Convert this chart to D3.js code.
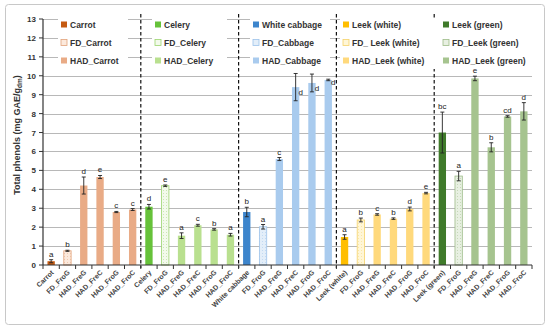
<!DOCTYPE html>
<html><head><meta charset="utf-8">
<script src="https://cdn.jsdelivr.net/npm/d3@7"></script>
<style>body{margin:0;background:#fff}svg{display:block}text{font-family:"Liberation Sans",Arial,sans-serif}</style>
</head><body><svg id="c" width="550" height="331"></svg>
<script>
const categories = ["Carrot","FD_FroG","HAD_FreG","HAD_FreC","HAD_FroG","HAD_FroC",
 "Celery","FD_FroG","HAD_FreG","HAD_FreC","HAD_FroG","HAD_FroC",
 "White cabbage","FD_FroG","HAD_FreG","HAD_FreC","HAD_FroG","HAD_FroC",
 "Leek (white)","FD_FroG","HAD_FreG","HAD_FreC","HAD_FroG","HAD_FroC",
 "Leek (green)","FD_FroG","HAD_FreG","HAD_FreC","HAD_FroG","HAD_FroC"];
const values = [0.2,0.75,4.2,4.65,2.8,2.93,
 3.08,4.19,1.55,2.1,1.88,1.6,
 2.8,2.02,5.6,9.4,9.62,9.78,
 1.48,2.38,2.67,2.45,2.96,3.8,
 7.0,4.7,9.86,6.22,7.85,8.12];
const errors = [0.08,0.03,0.45,0.08,0.03,0.05,
 0.12,0.04,0.15,0.05,0.04,0.07,
 0.25,0.12,0.08,0.72,0.47,0.04,
 0.12,0.1,0.04,0.04,0.1,0.04,
 1.08,0.25,0.12,0.24,0.04,0.46];
const letters = ["a","b","d","e","c","c",
 "d","e","a","c","b","a",
 "b","a","c","d","d","d",
 "a","b","c","b","d","e",
 "bc","a","e","b","cd","d"];
const groupNames = ["Carrot","Celery","White cabbage","Leek (white)","Leek (green)"];
const legendLabels = [["Carrot","FD_Carrot","HAD_Carrot"],["Celery","FD_Celery","HAD_Celery"],
 ["White cabbage","FD_Cabbage","HAD_Cabbage"],["Leek (white)","FD_ Leek (white)","HAD_Leek (white)"],
 ["Leek (green)","FD_Leek (green)","HAD_Leek (green)"]];
const yTicks = [0,1,2,3,4,5,6,7,8,9,10,11,12,13];
// colours per group: [fresh, FD fill, FD stroke, HAD]
const colors = [["#C55A11","#FCE9DC","#E2A27A","#E9AB86"],
 ["#66C23A","#F3FAEC","#9BD46E","#B9E08F"],
 ["#3D85CC","#E3EEF9","#9CC2EA","#A9CBEE"],
 ["#FFBE00","#FFF6D6","#F5D36A","#FFD97C"],
 ["#3F7A2A","#E8F0E2","#9DBB88","#A6C48F"]];

const svg = d3.select("#c");
const L=43,R=532;
const y = d3.scaleLinear().domain([0,13]).range([265,19]);
const x = d3.scaleBand().domain(d3.range(categories.length)).range([L,R]).paddingInner(0.55).paddingOuter(0.275);
const step = x.step();

// frame
svg.append("rect").attr("x",5.5).attr("y",4.5).attr("width",539).attr("height",320).attr("rx",3)
 .attr("fill","none").attr("stroke","#c8c8c8").attr("stroke-width",1);

// gridlines
svg.append("g").selectAll("line").data(yTicks.filter(d=>d>0)).join("line")
 .attr("x1",L).attr("x2",R).attr("y1",d=>Math.round(y(d))+0.5).attr("y2",d=>Math.round(y(d))+0.5)
 .attr("stroke","#a6a6a6").attr("stroke-width",0.8);

// patterns for FD bars
const defs = svg.append("defs");
colors.forEach((c,i)=>{
 const p = defs.append("pattern").attr("id","fd"+i).attr("width",3).attr("height",3).attr("patternUnits","userSpaceOnUse");
 p.append("rect").attr("width",3).attr("height",3).attr("fill",c[1]);
 p.append("rect").attr("x",1).attr("y",1).attr("width",1).attr("height",1).attr("fill",c[2]).attr("opacity",0.45);
});

// bars
const g = i=>Math.floor(i/6), t=i=>i%6;
svg.append("g").selectAll("rect").data(values).join("rect")
 .attr("x",(d,i)=>x(i)).attr("width",x.bandwidth())
 .attr("y",d=>y(d)).attr("height",d=>y(0)-y(d))
 .attr("fill",(d,i)=>t(i)===0?colors[g(i)][0]:t(i)===1?`url(#fd${g(i)})`:colors[g(i)][3])
 .attr("stroke",(d,i)=>t(i)===1?colors[g(i)][2]:"none").attr("stroke-width",0.8);

// error bars
const eg = svg.append("g").attr("stroke","#222").attr("stroke-width",0.9);
values.forEach((v,i)=>{
 const cx = x(i)+x.bandwidth()/2, y1=y(v+errors[i]), y2=y(v-errors[i]);
 eg.append("line").attr("x1",cx).attr("x2",cx).attr("y1",y1).attr("y2",y2);
 eg.append("line").attr("x1",cx-2).attr("x2",cx+2).attr("y1",y1).attr("y2",y1);
 eg.append("line").attr("x1",cx-2).attr("x2",cx+2).attr("y1",y2).attr("y2",y2);
});
// letters
svg.append("g").selectAll("text").data(letters).join("text")
 .attr("x",(d,i)=>x(i)+x.bandwidth()/2 + ((values[i]>9 && g(i)===2 && t(i)>2)?5:0))
 .attr("y",(d,i)=>((values[i]>9 && g(i)===2 && t(i)>2)? y(values[i])+ 8 - (t(i)===5?3:0) : y(values[i]+errors[i])-3))
 .attr("text-anchor","middle").attr("font-size",8).attr("fill","#222").text(d=>d);

// dashed separators
svg.append("g").selectAll("line").data([6,12,18,24]).join("line")
 .attr("x1",d=>L+d*step).attr("x2",d=>L+d*step).attr("y1",14).attr("y2",268)
 .attr("stroke","#111").attr("stroke-width",1.2).attr("stroke-dasharray","3.5,2.5");

// axes
svg.append("line").attr("x1",L).attr("x2",L).attr("y1",y(13)).attr("y2",y(0)).attr("stroke","#333").attr("stroke-width",1.2);
svg.append("line").attr("x1",L).attr("x2",R).attr("y1",y(0)).attr("y2",y(0)).attr("stroke","#333").attr("stroke-width",1.2);
svg.append("g").selectAll("line").data(yTicks).join("line")
 .attr("x1",L-4).attr("x2",L).attr("y1",d=>y(d)).attr("y2",d=>y(d)).attr("stroke","#333");
svg.append("g").selectAll("text").data(yTicks).join("text")
 .attr("x",L-7).attr("y",d=>y(d)+3).attr("text-anchor","end").attr("font-size",8).attr("font-weight","bold").attr("fill","#333").text(d=>d);
svg.append("g").selectAll("line").data(d3.range(categories.length+1)).join("line")
 .attr("x1",d=>L+d*step).attr("x2",d=>L+d*step).attr("y1",y(0)).attr("y2",y(0)+4).attr("stroke","#333");
svg.append("g").selectAll("text").data(categories).join("text")
 .attr("transform",(d,i)=>`translate(${x(i)+x.bandwidth()/2+3},${y(0)+8}) rotate(-45)`)
 .attr("text-anchor","end").attr("font-size",7).attr("font-weight","bold").attr("fill","#444").text(d=>d);

// y title
const yt = svg.append("text").attr("transform","translate(20,135) rotate(-90)").attr("text-anchor","middle")
 .attr("font-size",9).attr("font-weight","bold").attr("fill","#333");
yt.append("tspan").text("Total phenols (mg GAE/g");
yt.append("tspan").attr("font-size",6.5).attr("dy",2).text("dm");
yt.append("tspan").attr("dy",-2).text(")");

// legends
const legX = [58,152,250,340,440];
const legW = [70,75,80,102,100];
groupNames.forEach((n,gi)=>{
 const lg = svg.append("g").attr("transform",`translate(${legX[gi]},19)`);
 lg.append("rect").attr("x",0).attr("y",0).attr("width",legW[gi]).attr("height",50).attr("fill","#fff");
 legendLabels[gi].forEach((lab,k)=>{
  const yy = 6 + k*18;
  lg.append("rect").attr("x",3).attr("y",yy-3.5).attr("width",6).attr("height",6)
   .attr("fill",k===0?colors[gi][0]:k===1?colors[gi][1]:colors[gi][3])
   .attr("stroke",k===1?colors[gi][2]:"none").attr("stroke-width",0.8);
  lg.append("text").attr("x",12).attr("y",yy+3).attr("font-size",8.5).attr("font-weight","bold").attr("fill","#333").text(lab);
 });
});
</script></body></html>
